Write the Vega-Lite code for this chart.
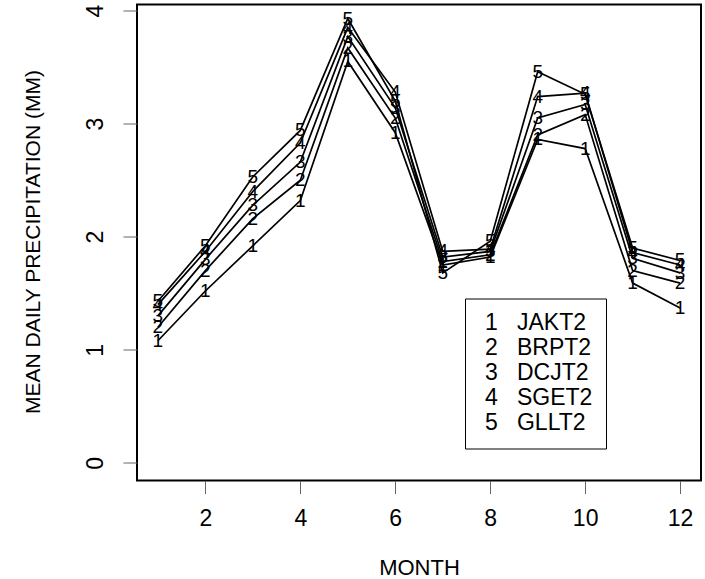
{
  "$schema": "https://vega.github.io/schema/vega-lite/v6.json",
  "width": 564,
  "height": 476,
  "autosize": {"type": "none"},
  "padding": {"left": 137, "top": 4.5, "right": 4, "bottom": 98.5},
  "background": "white",
  "config": {
    "font": "Liberation Sans",
    "view": {"stroke": "black", "strokeWidth": 2},
    "axis": {
      "domain": false, "grid": false, "tickColor": "#666", "tickWidth": 1,
      "labelColor": "black", "labelFontSize": 23, "labelFont": "Liberation Sans",
      "titleFont": "Liberation Sans", "titleFontWeight": "normal", "titleColor": "black",
      "labelFlush": false, "labelOverlap": false
    }
  },
  "data": {
    "values": [
      {"month": 1, "station": "JAKT2", "id": "1", "precip": 1.08},
      {"month": 2, "station": "JAKT2", "id": "1", "precip": 1.52},
      {"month": 3, "station": "JAKT2", "id": "1", "precip": 1.92},
      {"month": 4, "station": "JAKT2", "id": "1", "precip": 2.32},
      {"month": 5, "station": "JAKT2", "id": "1", "precip": 3.55},
      {"month": 6, "station": "JAKT2", "id": "1", "precip": 2.92},
      {"month": 7, "station": "JAKT2", "id": "1", "precip": 1.75},
      {"month": 8, "station": "JAKT2", "id": "1", "precip": 1.82},
      {"month": 9, "station": "JAKT2", "id": "1", "precip": 2.86},
      {"month": 10, "station": "JAKT2", "id": "1", "precip": 2.78},
      {"month": 11, "station": "JAKT2", "id": "1", "precip": 1.59},
      {"month": 12, "station": "JAKT2", "id": "1", "precip": 1.37},
      {"month": 1, "station": "BRPT2", "id": "2", "precip": 1.2},
      {"month": 2, "station": "BRPT2", "id": "2", "precip": 1.7},
      {"month": 3, "station": "BRPT2", "id": "2", "precip": 2.16},
      {"month": 4, "station": "BRPT2", "id": "2", "precip": 2.5},
      {"month": 5, "station": "BRPT2", "id": "2", "precip": 3.67},
      {"month": 6, "station": "BRPT2", "id": "2", "precip": 3.05},
      {"month": 7, "station": "BRPT2", "id": "2", "precip": 1.78},
      {"month": 8, "station": "BRPT2", "id": "2", "precip": 1.84},
      {"month": 9, "station": "BRPT2", "id": "2", "precip": 2.9},
      {"month": 10, "station": "BRPT2", "id": "2", "precip": 3.08},
      {"month": 11, "station": "BRPT2", "id": "2", "precip": 1.7},
      {"month": 12, "station": "BRPT2", "id": "2", "precip": 1.59},
      {"month": 1, "station": "DCJT2", "id": "3", "precip": 1.3},
      {"month": 2, "station": "DCJT2", "id": "3", "precip": 1.8},
      {"month": 3, "station": "DCJT2", "id": "3", "precip": 2.28},
      {"month": 4, "station": "DCJT2", "id": "3", "precip": 2.66},
      {"month": 5, "station": "DCJT2", "id": "3", "precip": 3.77},
      {"month": 6, "station": "DCJT2", "id": "3", "precip": 3.14},
      {"month": 7, "station": "DCJT2", "id": "3", "precip": 1.82},
      {"month": 8, "station": "DCJT2", "id": "3", "precip": 1.87},
      {"month": 9, "station": "DCJT2", "id": "3", "precip": 3.05},
      {"month": 10, "station": "DCJT2", "id": "3", "precip": 3.17},
      {"month": 11, "station": "DCJT2", "id": "3", "precip": 1.81},
      {"month": 12, "station": "DCJT2", "id": "3", "precip": 1.68},
      {"month": 1, "station": "SGET2", "id": "4", "precip": 1.4},
      {"month": 2, "station": "SGET2", "id": "4", "precip": 1.87},
      {"month": 3, "station": "SGET2", "id": "4", "precip": 2.4},
      {"month": 4, "station": "SGET2", "id": "4", "precip": 2.83},
      {"month": 5, "station": "SGET2", "id": "4", "precip": 3.85},
      {"month": 6, "station": "SGET2", "id": "4", "precip": 3.28},
      {"month": 7, "station": "SGET2", "id": "4", "precip": 1.87},
      {"month": 8, "station": "SGET2", "id": "4", "precip": 1.89},
      {"month": 9, "station": "SGET2", "id": "4", "precip": 3.24},
      {"month": 10, "station": "SGET2", "id": "4", "precip": 3.27},
      {"month": 11, "station": "SGET2", "id": "4", "precip": 1.86},
      {"month": 12, "station": "SGET2", "id": "4", "precip": 1.75},
      {"month": 1, "station": "GLLT2", "id": "5", "precip": 1.43},
      {"month": 2, "station": "GLLT2", "id": "5", "precip": 1.92},
      {"month": 3, "station": "GLLT2", "id": "5", "precip": 2.53},
      {"month": 4, "station": "GLLT2", "id": "5", "precip": 2.94},
      {"month": 5, "station": "GLLT2", "id": "5", "precip": 3.93},
      {"month": 6, "station": "GLLT2", "id": "5", "precip": 3.2},
      {"month": 7, "station": "GLLT2", "id": "5", "precip": 1.68},
      {"month": 8, "station": "GLLT2", "id": "5", "precip": 1.96},
      {"month": 9, "station": "GLLT2", "id": "5", "precip": 3.46},
      {"month": 10, "station": "GLLT2", "id": "5", "precip": 3.26},
      {"month": 11, "station": "GLLT2", "id": "5", "precip": 1.9},
      {"month": 12, "station": "GLLT2", "id": "5", "precip": 1.79}
    ]
  },
  "encoding": {
    "x": {
      "field": "month", "type": "quantitative",
      "scale": {"domain": [0.56, 12.44], "nice": false, "zero": false},
      "axis": {
        "values": [2, 4, 6, 8, 10, 12], "title": "MONTH", "labelAngle": 0,
        "labelBaseline": "middle", "labelPadding": 25, "tickSize": 13,
        "titleFontSize": 22, "titleX": 282, "titleY": 87, "titleBaseline": "middle", "titleAlign": "center"
      }
    },
    "y": {
      "field": "precip", "type": "quantitative",
      "scale": {"domain": [-0.156, 4.054], "nice": false, "zero": false},
      "axis": {
        "values": [0, 1, 2, 3, 4], "title": "MEAN DAILY PRECIPITATION (MM)",
        "labelAngle": -90, "labelAlign": "center", "labelBaseline": "middle",
        "labelPadding": 28, "tickSize": 14,
        "titleFontSize": 21, "titleX": -104, "titleY": 237, "titleAngle": -90,
        "titleBaseline": "middle", "titleAlign": "center"
      }
    }
  },
  "layer": [
    {
      "mark": {"type": "line", "strokeWidth": 1.7, "color": "black"},
      "encoding": {
        "detail": {"field": "station"},
        "color": {
          "field": "station", "type": "nominal",
          "scale": {"domain": ["JAKT2", "BRPT2", "DCJT2", "SGET2", "GLLT2"], "range": ["black", "black", "black", "black", "black"]},
          "legend": {
            "title": null, "orient": "none", "legendX": 328, "legendY": 294,
            "strokeColor": "black", "fillColor": "white", "padding": 13,
            "symbolSize": 1, "symbolOpacity": 0, "symbolStrokeWidth": 0, "labelOffset": -16,
            "labelFontSize": 23, "labelFont": "Liberation Sans", "labelColor": "black",
            "rowPadding": 1, "labelLimit": 400,
            "labelExpr": "(indexof(['JAKT2','BRPT2','DCJT2','SGET2','GLLT2'], datum.value) + 1) + '\u00a0\u00a0\u00a0' + datum.label"
          }
        }
      }
    },
    {
      "mark": {"type": "text", "fontSize": 19, "fill": "black", "font": "Liberation Sans", "baseline": "middle", "align": "center"},
      "encoding": {"text": {"field": "id"}}
    }
  ]
}
